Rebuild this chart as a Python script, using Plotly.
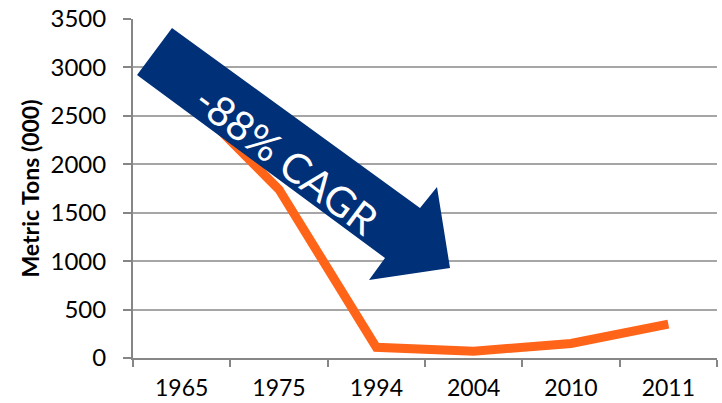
import plotly.graph_objects as go

years = ["1965", "1975", "1994", "2004", "2010", "2011"]
metric_tons = [2750, 1740, 110, 70, 150, 350]
y_ticks = [0, 500, 1000, 1500, 2000, 2500, 3000, 3500]
arrow_label = "-88% CAGR"
y_title = "Metric Tons (000)"

W, H = 722, 403
L, R, T, B = 133, 5, 19, 45
pw, ph = W - L - R, H - T - B

def to_paper(px, py):
    return (px - L) / pw, (H - B - py) / ph

# arrow outline (pixel geometry of the decoration)
arrow_px = [(172, 28), (420, 208), (437, 187), (450, 268), (369, 280), (385, 258), (137, 75), (172, 28)]
pts = [to_paper(x, y) for x, y in arrow_px]

font = "Lato, 'Open Sans', sans-serif"

fig = go.Figure()
fig.add_trace(go.Scatter(
    x=years, y=metric_tons, mode="lines",
    line=dict(color="#FF6418", width=9),
    hoverinfo="skip", showlegend=False,
))
fig.add_trace(go.Scatter(
    x=[p[0] for p in pts], y=[p[1] for p in pts], xaxis="x2", yaxis="y2",
    mode="lines", fill="toself", fillcolor="#003078", line=dict(width=0, color="#003078"),
    hoverinfo="skip", showlegend=False,
))

cx, cy = to_paper(287, 159)
fig.add_annotation(x=cx, y=cy, xref="paper", yref="paper", text=arrow_label,
                   xanchor="center", yanchor="middle",
                   showarrow=False, textangle=37,
                   font=dict(family=font, size=41, color="white"))

fig.update_layout(
    width=W, height=H,
    margin=dict(l=L, r=R, t=T, b=B),
    paper_bgcolor="white", plot_bgcolor="white",
    font=dict(family=font, size=24, color="#000000"),
    xaxis2=dict(overlaying="x", range=[0, 1], visible=False, fixedrange=True),
    yaxis2=dict(overlaying="y", range=[0, 1], visible=False, fixedrange=True),
    xaxis=dict(
        type="category", tickson="boundaries", ticks="outside", ticklen=7,
        tickcolor="#868686", tickwidth=2, showline=True, linecolor="#868686", linewidth=2,
        showgrid=False, tickfont=dict(size=23), range=[-0.5, 5.5], ticklabelstandoff=8,
        automargin=False,
    ),
    yaxis=dict(
        range=[0, 3500], tickvals=y_ticks, ticks="outside", ticklen=8,
        tickcolor="#868686", tickwidth=2, showline=True, linecolor="#868686", linewidth=2,
        showgrid=True, gridcolor="#A6A6A6", gridwidth=2, zeroline=False,
        tickfont=dict(size=24), ticklabelstandoff=12, automargin=False,
        title=dict(text="<b>" + y_title + "</b>", font=dict(size=23, family=font), standoff=4),
    ),
)

fig.write_html("out.html", config={"displayModeBar": False},
               post_script="document.body.style.margin='0';document.body.style.overflow='hidden';")
